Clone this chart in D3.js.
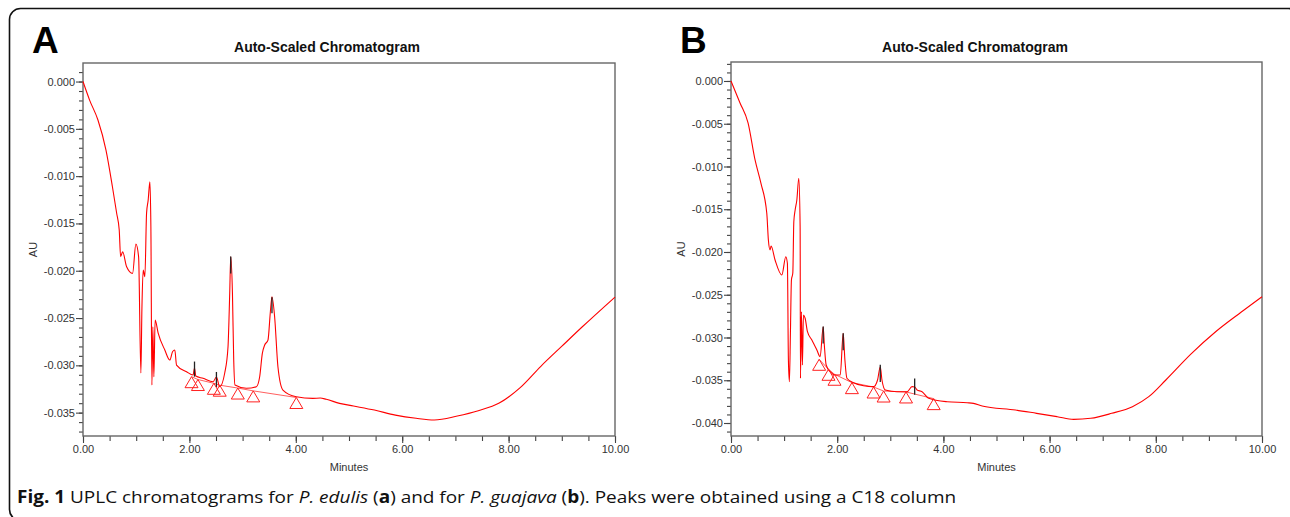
<!DOCTYPE html>
<html><head><meta charset="utf-8">
<script src="https://cdn.jsdelivr.net/npm/d3@7"></script>
<style>body{margin:0;background:#fff}svg{display:block}</style>
</head><body>
<svg id="chart" width="1290" height="517"></svg>
<script>
// ---------- data ----------
const panelLabels = ["A", "B"];
const chartTitle = "Auto-Scaled Chromatogram";
const xLabel = "Minutes";
const yLabel = "AU";
const xTicks = [0, 2, 4, 6, 8, 10];
const yTicksA = [0, -0.005, -0.010, -0.015, -0.020, -0.025, -0.030, -0.035];
const yTicksB = [0, -0.005, -0.010, -0.015, -0.020, -0.025, -0.030, -0.035, -0.040];

// Panel A : P. edulis
const timeA = [0,0.124,0.281,0.432,0.553,0.632,0.681,0.707,0.745,0.820,0.932,0.994,1.045,1.088,1.107,1.131,1.163,1.195,1.225,1.257,1.276,1.295,1.313,1.332,1.356,1.413,1.538,1.632,1.683,1.726,1.758,1.946,2.069,2.096,2.120,2.257,2.445,2.508,2.570,2.664,2.726,2.758,2.777,2.809,2.833,2.857,3.071,3.259,3.321,3.371,3.415,3.477,3.522,3.552,3.602,3.664,3.758,4.009,4.321,4.460,4.572,4.822,5.084,5.478,5.872,6.261,6.604,7.036,7.430,7.824,8.218,8.606,8.997,9.381,10.0];
const auA = [0,-0.00196,-0.00407,-0.00724,-0.01112,-0.01390,-0.01570,-0.01852,-0.01799,-0.01958,-0.02028,-0.01718,-0.01852,-0.03081,-0.02415,-0.01993,-0.02063,-0.01390,-0.01253,-0.01059,-0.01535,-0.03208,-0.02592,-0.03121,-0.02521,-0.02659,-0.02838,-0.02944,-0.02856,-0.02838,-0.02997,-0.03068,-0.03102,-0.03029,-0.03113,-0.03137,-0.03173,-0.03124,-0.03226,-0.03081,-0.02803,-0.02236,-0.01852,-0.02236,-0.02944,-0.03208,-0.03243,-0.03226,-0.03121,-0.02873,-0.02785,-0.02733,-0.02433,-0.02275,-0.02486,-0.03015,-0.03261,-0.03332,-0.03349,-0.03346,-0.03359,-0.03402,-0.03430,-0.03473,-0.03526,-0.03560,-0.03578,-0.03536,-0.03480,-0.03399,-0.03236,-0.03010,-0.02800,-0.02595,-0.02278];
const triTimeA = [2.04, 2.16, 2.46, 2.57, 2.91, 3.20, 4.01];
const triAuA = [-0.0312, -0.0315, -0.0319, -0.0321, -0.0324, -0.0327, -0.0334];
const peakTimeA = [2.096, 2.508, 2.777, 3.552];
const peakTopA = [-0.0296, -0.0307, -0.0185, -0.0228];
const peakBotA = [-0.0312, -0.0323, -0.0203, -0.0245];

// Panel B : P. guajava
const timeB = [0,0.170,0.321,0.453,0.562,0.674,0.704,0.736,0.755,0.830,0.957,1.032,1.062,1.081,1.100,1.119,1.138,1.164,1.183,1.208,1.240,1.277,1.302,1.308,1.326,1.345,1.364,1.396,1.440,1.523,1.617,1.679,1.736,1.760,1.792,1.868,1.962,2.057,2.113,2.145,2.183,2.308,2.496,2.685,2.760,2.811,2.843,2.906,3.126,3.315,3.409,3.459,3.504,3.598,3.723,4.070,4.447,4.566,4.730,5.358,5.755,6.145,6.453,6.774,7.170,7.560,7.868,8.189,8.660,9.132,9.604,10.0];
const auB = [0,-0.00257,-0.00491,-0.00924,-0.01193,-0.01547,-0.01860,-0.01977,-0.01930,-0.02094,-0.02269,-0.02055,-0.02132,-0.03263,-0.03517,-0.02947,-0.02327,-0.02246,-0.01646,-0.01509,-0.01392,-0.01138,-0.01704,-0.03477,-0.02698,-0.03322,-0.02737,-0.02775,-0.02932,-0.03029,-0.03146,-0.03225,-0.02874,-0.03108,-0.03322,-0.03400,-0.03439,-0.03439,-0.02951,-0.03263,-0.03477,-0.03529,-0.03564,-0.03575,-0.03497,-0.03342,-0.03497,-0.03614,-0.03634,-0.03634,-0.03575,-0.03579,-0.03614,-0.03634,-0.03711,-0.03751,-0.03763,-0.03770,-0.03801,-0.03848,-0.03887,-0.03926,-0.03957,-0.03945,-0.03887,-0.03809,-0.03692,-0.03497,-0.03195,-0.02930,-0.02705,-0.02523];
const triTimeB = [1.660, 1.836, 1.949, 2.277, 2.685, 2.874, 3.296, 3.817];
const triAuB = [-0.03255, -0.03372, -0.03430, -0.03528, -0.03579, -0.03626, -0.03637, -0.03715];
const peakTimeB = [1.736, 2.113, 2.811, 3.459];
const peakTopB = [-0.0287, -0.0295, -0.0332, -0.0348];
const peakBotB = [-0.0307, -0.0315, -0.0352, -0.0367];

// ---------- drawing ----------
const svg = d3.select("#chart");
const FONT = "'Liberation Sans', Arial, sans-serif";

// outer rounded frame
svg.append("rect").attr("x", 9.5).attr("y", 8.5).attr("width", 1290).attr("height", 512)
  .attr("rx", 11).attr("fill", "none").attr("stroke", "#111").attr("stroke-width", 1.6);

const panels = [
  {label: panelLabels[0], left: 83, right: 615, top: 63, bottom: 436, yDom: [-0.03747, 0.00196], yTicks: yTicksA,
   t: timeA, v: auA, triT: triTimeA, triV: triAuA, pkT: peakTimeA, pkTop: peakTopA, pkBot: peakBotA},
  {label: panelLabels[1], left: 731, right: 1262, top: 62, bottom: 436, yDom: [-0.04152, 0.00222], yTicks: yTicksB,
   t: timeB, v: auB, triT: triTimeB, triV: triAuB, pkT: peakTimeB, pkTop: peakTopB, pkBot: peakBotB}
];

panels.forEach(p => {
  const x = d3.scaleLinear().domain([0, 10]).range([p.left, p.right]);
  const y = d3.scaleLinear().domain(p.yDom).range([p.bottom, p.top]);
  const g = svg.append("g");

  // panel letter
  g.append("text").attr("x", p.left - 51).attr("y", 53).text(p.label)
    .attr("font-family", FONT).attr("font-weight", "bold").attr("font-size", 37).attr("fill", "#000");
  // title
  g.append("text").attr("x", p.left + 244).attr("y", 52).attr("text-anchor", "middle").text(chartTitle)
    .attr("font-family", FONT).attr("font-weight", "bold").attr("font-size", 14).attr("fill", "#111");

  // minor ticks
  const yMinor = d3.range(Math.ceil(p.yDom[0] * 1000), Math.floor(p.yDom[1] * 1000) + 1).map(d => d / 1000);
  const xMinor = d3.range(0, 10.01, 0.5);
  g.append("g").attr("transform", `translate(${p.left},0)`)
    .call(d3.axisLeft(y).tickValues(yMinor).tickSize(4).tickFormat(""))
    .call(a => a.select(".domain").remove())
    .selectAll("line").attr("stroke", "#444").attr("stroke-width", 1.1);
  g.append("g").attr("transform", `translate(0,${p.bottom})`)
    .call(d3.axisBottom(x).tickValues(xMinor).tickSize(5).tickFormat(""))
    .call(a => a.select(".domain").remove())
    .selectAll("line").attr("stroke", "#444").attr("stroke-width", 1.1);

  // major ticks + labels
  const ya = g.append("g").attr("transform", `translate(${p.left},0)`)
    .call(d3.axisLeft(y).tickValues(p.yTicks).tickSize(7).tickPadding(1).tickFormat(d => d.toFixed(3)));
  ya.select(".domain").remove();
  ya.selectAll("line").attr("stroke", "#444").attr("stroke-width", 1.1);
  ya.selectAll("text").attr("font-family", FONT).attr("font-size", 11).attr("fill", "#333");

  const xa = g.append("g").attr("transform", `translate(0,${p.bottom})`)
    .call(d3.axisBottom(x).tickValues(xTicks).tickSize(7).tickPadding(2).tickFormat(d => d.toFixed(2)));
  xa.select(".domain").remove();
  xa.selectAll("line").attr("stroke", "#444").attr("stroke-width", 1.1);
  xa.selectAll("text").attr("font-family", FONT).attr("font-size", 11).attr("fill", "#333");

  // plot frame
  g.append("rect").attr("x", p.left).attr("y", p.top).attr("width", p.right - p.left).attr("height", p.bottom - p.top)
    .attr("fill", "none").attr("stroke", "#666").attr("stroke-width", 1.4);

  // axis titles
  g.append("text").attr("x", (p.left + p.right) / 2).attr("y", 471).attr("text-anchor", "middle").text(xLabel)
    .attr("font-family", FONT).attr("font-size", 11).attr("fill", "#333");
  g.append("text").attr("transform", `translate(${p.left - 46},${(p.top + p.bottom) / 2}) rotate(-90)`)
    .attr("text-anchor", "middle").text(yLabel)
    .attr("font-family", FONT).attr("font-size", 11).attr("fill", "#333");

  // baseline through integration marks
  const baseLine = d3.line().x((d, i) => x(p.triT[i])).y((d, i) => y(p.triV[i]));
  g.append("path").attr("d", baseLine(p.triT)).attr("fill", "none")
    .attr("stroke", "#ff2020").attr("stroke-width", 0.9).attr("opacity", 0.8);

  // chromatogram trace
  const trace = d3.line().curve(d3.curveMonotoneX).x((d, i) => x(p.t[i])).y((d, i) => y(p.v[i]));
  g.append("path").attr("d", trace(p.t)).attr("fill", "none")
    .attr("stroke", "#ff0000").attr("stroke-width", 1.1).attr("stroke-linejoin", "round");

  // peak apex markers (black)
  g.selectAll(".pk").data(p.pkT).join("line")
    .attr("x1", d => x(d)).attr("x2", d => x(d))
    .attr("y1", (d, i) => y(p.pkTop[i])).attr("y2", (d, i) => y(p.pkBot[i]))
    .attr("stroke", "#222").attr("stroke-width", 1.3);

  // integration triangles
  g.selectAll(".tri").data(p.triT).join("path")
    .attr("d", (d, i) => {
      const cx = x(d), cy = y(p.triV[i]);
      return `M${cx},${cy}L${cx + 6.5},${cy + 11}L${cx - 6.5},${cy + 11}Z`;
    })
    .attr("fill", "none").attr("stroke", "#ff2020").attr("stroke-width", 1);
});

// caption
const cap = svg.append("text").attr("x", 17).attr("y", 503)
  .attr("font-family", "'Open Sans', 'Noto Sans', sans-serif").attr("font-size", 17).attr("fill", "#111");
const parts = [
  ["Fig. 1", "bold", "normal"], [" UPLC chromatograms for ", "normal", "normal"], ["P. edulis", "normal", "italic"],
  [" (", "normal", "normal"], ["a", "bold", "normal"], [") and for ", "normal", "normal"], ["P. guajava", "normal", "italic"],
  [" (", "normal", "normal"], ["b", "bold", "normal"], ["). Peaks were obtained using a C18 column", "normal", "normal"]
];
parts.forEach(([t, w, s]) => cap.append("tspan").text(t).attr("font-weight", w).attr("font-style", s));
const natural = cap.node().getComputedTextLength();
const target = 940;
const sx = target / natural;
cap.attr("transform", `translate(${17 - 17 * sx},0) scale(${sx},1)`);
</script>
</body></html>
